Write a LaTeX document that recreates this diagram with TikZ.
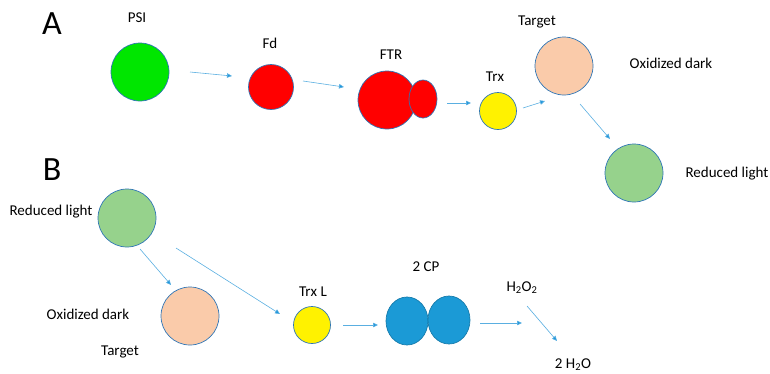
\documentclass[tikz,border=0pt]{standalone}
\usepackage{fontspec}
\setmainfont{Carlito}
\usetikzlibrary{arrows.meta,shapes.geometric}

\definecolor{edgeblue}{RGB}{46,117,182}
\definecolor{arrowblue}{RGB}{90,175,225}
\definecolor{tipblue}{RGB}{30,150,220}
\definecolor{psigreen}{RGB}{0,230,0}
\definecolor{lightgreen}{RGB}{150,210,140}
\definecolor{peach}{RGB}{250,203,170}
\definecolor{cpblue}{RGB}{27,154,214}

\tikzset{
  ball/.style={circle,draw=edgeblue,line width=0.7pt,inner sep=0pt,minimum size=#1},
  egg/.style={ellipse,draw=edgeblue,line width=0.7pt,inner sep=0pt},
  lbl/.style={font=\fontsize{15}{18}\selectfont,inner sep=0pt},
  panel/.style={font=\fontsize{34}{40}\selectfont,inner sep=0pt},
  arr/.style={draw=arrowblue,line width=0.6pt,-{Triangle[length=5pt,width=4.5pt,fill=tipblue]}}
}

\begin{document}
\begin{tikzpicture}[x=1pt,y=-1pt]

\useasboundingbox (0,0) rectangle (770,373);

%%%%%%%%%%%%%%%%%%%%%%%%%%%%%%%%%%%%%%

\node[panel] (pA) at (52,24) {A};
\node[panel] (pB) at (52,170) {B};

%%%%%%%%%%%%%%%%%%%%%%%%%%%%%%%%%%%%%%

\node[ball=58pt,fill=psigreen] (psi) at (140,72) {};
\node[ball=45pt,fill=red] (fd) at (271,87) {};
\node[ball=58pt,fill=red] (ftr) at (387,100) {};
\node[egg,fill=red,minimum width=28pt,minimum height=38pt] (ftrs) at (423,99) {};
\node[ball=37pt,fill=yellow] (trx) at (498,111) {};
\node[ball=58pt,fill=peach] (tgt) at (564,66) {};
\node[ball=58pt,fill=lightgreen] (red) at (634,173) {};

\node[lbl] (lpsi) at (137,18) {PSI};
\node[lbl] (lfd) at (270,43) {Fd};
\node[lbl] (lftr) at (391,55) {FTR};
\node[lbl] (ltrx) at (495,77) {Trx};
\node[lbl] (ltgt) at (537,22) {Target};
\node[lbl] (lox) at (671,63) {Oxidized dark};
\node[lbl] (lred) at (727,174) {Reduced light};

\coordinate (a1) at (190,72);  \coordinate (b1) at (232,76);
\coordinate (a2) at (303,81);  \coordinate (b2) at (344,87);
\coordinate (a3) at (447,103); \coordinate (b3) at (471,103);
\coordinate (a4) at (523,108); \coordinate (b4) at (545,101);
\coordinate (a5) at (580,104); \coordinate (b5) at (610,139);

\draw[arr] (a1) -- (b1);
\draw[arr] (a2) -- (b2);
\draw[arr] (a3) -- (b3);
\draw[arr] (a4) -- (b4);
\draw[arr] (a5) -- (b5);

%%%%%%%%%%%%%%%%%%%%%%%%%%%%%%%%%%%%%%

\node[ball=58pt,fill=lightgreen] (bred) at (127,218) {};
\node[ball=58pt,fill=peach] (btgt) at (190,316) {};
\node[ball=37pt,fill=yellow] (trxl) at (312,325) {};
\node[egg,fill=cpblue,draw=cpblue!80!black,minimum width=42pt,minimum height=48pt] (cpa) at (407,321) {};
\node[egg,fill=cpblue,draw=cpblue!80!black,minimum width=42pt,minimum height=48pt] (cpb) at (449,320) {};

\node[lbl] (lbred) at (51,212) {Reduced light};
\node[lbl] (lbox) at (88,314) {Oxidized dark};
\node[lbl] (lbtgt) at (120,352) {Target};
\node[lbl] (ltrxl) at (313,292) {Trx L};
\node[lbl] (lcp) at (426,267) {2 CP};
\node[lbl] (lh2o2) at (522,288) {H\textsubscript{2}O\textsubscript{2}};
\node[lbl] (lh2o) at (573,365) {2 H\textsubscript{2}O};

\coordinate (c1) at (140,249); \coordinate (d1) at (171,285);
\coordinate (c2) at (176,248); \coordinate (d2) at (280,314);
\coordinate (c3) at (343,325); \coordinate (d3) at (378,325);
\coordinate (c4) at (480,323); \coordinate (d4) at (522,323);
\coordinate (c5) at (527,306); \coordinate (d5) at (557,341);

\draw[arr] (c1) -- (d1);
\draw[arr] (c2) -- (d2);
\draw[arr] (c3) -- (d3);
\draw[arr] (c4) -- (d4);
\draw[arr] (c5) -- (d5);

\end{tikzpicture}
\end{document}
